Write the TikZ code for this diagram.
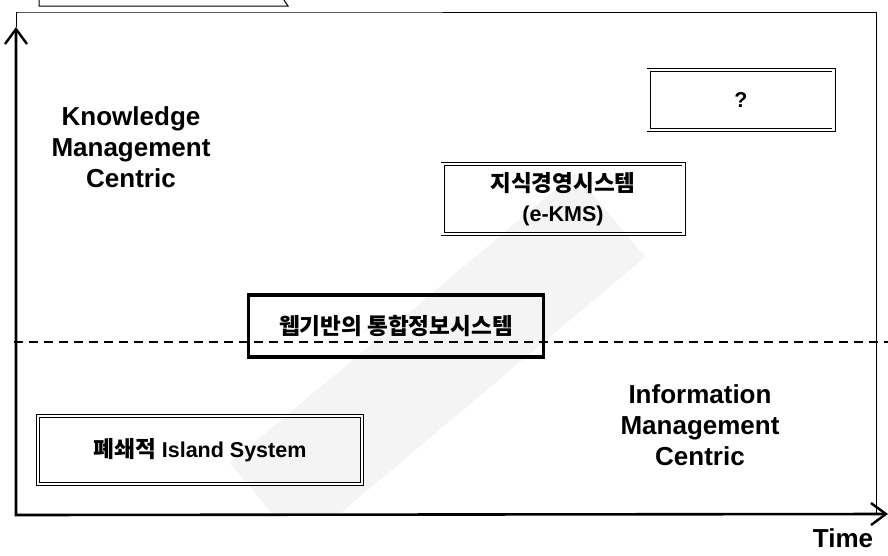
\documentclass[tikz,border=0pt]{standalone}
\usepackage{fontspec}
\setmainfont{Liberation Sans}
\newfontfamily\kofont[Scale=1.05]{Noto Sans CJK KR}
\usetikzlibrary{arrows.meta, positioning}

\tikzset{
    frameline/.style={line width=1pt},
    axisline/.style={line width=2.6pt, line join=miter,
        {Straight Barb[length=15pt,width=22pt,line width=2.4pt]}-{Straight Barb[length=15pt,width=22pt,line width=2.4pt]}},
    dashline/.style={line width=1.3pt, dash pattern=on 9pt off 6pt},
    sysbox/.style={draw, double, double distance=2.2pt, line width=0.9pt,
        align=center, font=\fontsize{21.5}{30}\selectfont\bfseries},
    webbox/.style={draw, line width=3.4pt, align=center,
        font=\fontsize{21.5}{24}\selectfont\bfseries},
    axislabel/.style={align=center, font=\fontsize{26}{31}\selectfont\bfseries}
}

\begin{document}
\begin{tikzpicture}[x=1pt, y=-1pt]

    \useasboundingbox (0,0) rectangle (888,555);

    % Frame
    \coordinate (origin) at (16,515);
    \coordinate (ytip) at (16,27);
    \coordinate (xtip) at (888,514);
    \coordinate (topleft) at (18,12);
    \coordinate (topright) at (876,12);
    \coordinate (botright) at (876,515);
    \draw[frameline] (ytip) |- (topleft) -- (topright) -- (botright);
    \draw[frameline] (39,0) -- (39,6) -- (288,6) -- (284,0);

    % Shaded band
    \begin{scope}
        \clip (18,12) rectangle (876,512);
        \fill[gray!9] (230,463) -- (575,173) -- (645,257) -- (300,547) -- cycle;
    \end{scope}

    % Divider
    \coordinate (dashl) at (14,342);
    \coordinate (dashr) at (888,342);
    \draw[dashline] (dashl) -- (dashr);

    % Axes
    \draw[axisline] (ytip) -- (origin) -- (xtip);

    % Systems
    \node[sysbox, minimum width=324pt, minimum height=68pt] (island) at (200,450)
        {{\kofont 폐쇄적} Island System};
    \node[webbox, minimum width=295pt, minimum height=62pt] (web) at (396,326)
        {\kofont 웹기반의 통합정보시스템};
    \node[sysbox, minimum width=241pt, minimum height=70pt] (ekms) at (563,199)
        {{\kofont 지식경영시스템}\\(e-KMS)};
    \node[sysbox, minimum width=185pt, minimum height=60pt] (next) at (741,100) {?};

    % Labels
    \node[axislabel] (kmc) at (131,147) {Knowledge\\Management\\Centric};
    \node[axislabel] (imc) at (700,425) {Information\\Management\\Centric};
    \node[axislabel] (time) at (843,538) {Time};

\end{tikzpicture}
\end{document}
